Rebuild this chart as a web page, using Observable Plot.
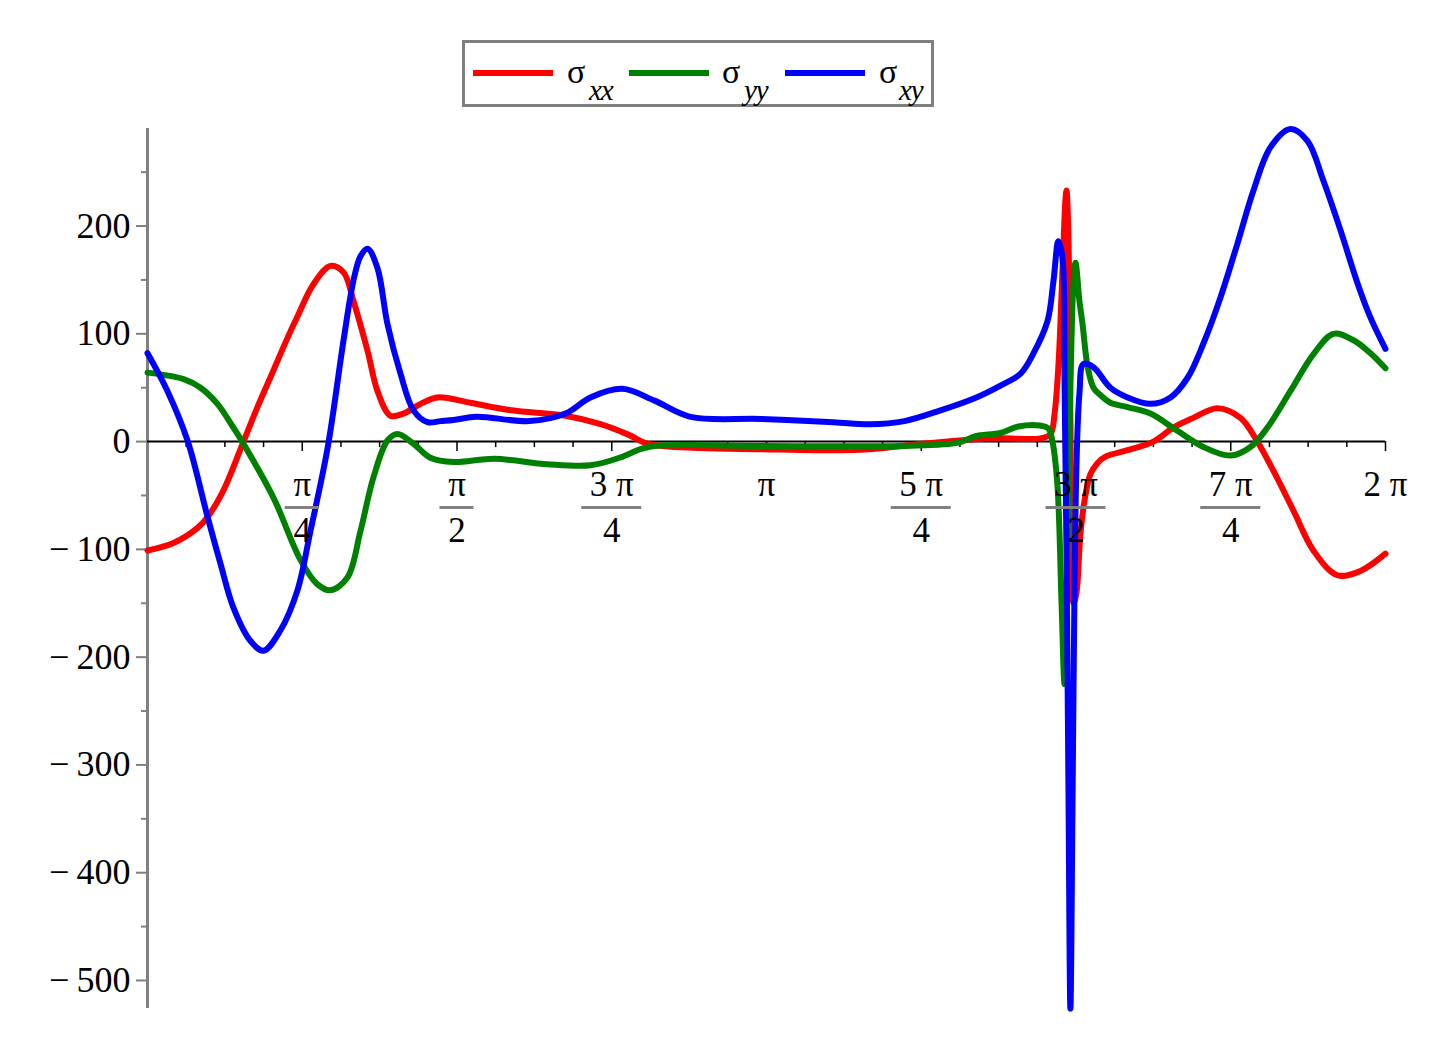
<!DOCTYPE html>
<html><head><meta charset="utf-8">
<script src="https://cdn.jsdelivr.net/npm/d3@7"></script>
<script src="https://cdn.jsdelivr.net/npm/@observablehq/plot@0.6"></script>
<style>
body{margin:0;background:#fff;font-family:"Liberation Serif",serif;color:#000;}
#legend{position:relative;width:1449px;height:120px;}
#box{position:absolute;left:462px;top:40px;width:466px;height:61px;border:3px solid #7f7f7f;background:#fff;}
.sw{position:absolute;top:27px;height:6px;width:80px;}
.sig{position:absolute;top:12px;font-size:34px;line-height:34px;}
.sub{position:absolute;top:33px;font-size:29px;line-height:29px;font-style:italic;letter-spacing:-1px;}
</style></head>
<body>
<div id="legend"><div id="box"></div></div>
<div id="chart"></div>
<script>
// theta in radians, stress values
const redTheta = [0,0.132,0.254,0.305,0.386,0.487,0.558,0.639,0.710,0.761,0.842,0.929,0.995,1.046,1.117,1.167,1.233,1.299,1.386,1.472,1.639,1.847,2.121,2.304,2.446,2.538,2.806,3.116,3.390,3.664,3.933,4.299,4.532,4.583,4.603,4.623,4.644,4.659,4.664,4.674,4.684,4.700,4.715,4.735,4.760,4.786,4.821,4.862,4.974,5.105,5.207,5.308,5.430,5.547,5.633,5.714,5.816,5.917,6.039,6.156,6.283];
const redValue = [-101,-94,-80,-70,-45,0,32,66,96,116,146,163,157,130,84,47,24,26,35,41,36,29,24,16,6,-2,-6,-7,-8,-7,-2,3,3,7,25,70,160,225,233,190,20,-150,-140,-85,-50,-30,-20,-14,-8,0,13,22,31,22,0,-27,-64,-101,-124,-120,-104];

const greenTheta = [0,0.183,0.269,0.355,0.436,0.487,0.639,0.777,0.860,0.929,1.015,1.081,1.147,1.218,1.269,1.350,1.436,1.553,1.761,2.030,2.248,2.395,2.502,2.573,3.111,3.842,4.116,4.202,4.329,4.420,4.527,4.573,4.593,4.618,4.639,4.654,4.669,4.684,4.700,4.710,4.730,4.745,4.771,4.801,4.837,4.887,4.974,5.090,5.227,5.359,5.496,5.598,5.684,5.801,5.917,6.019,6.121,6.207,6.283];
const greenValue = [64,58,50,35,13,-2,-52,-110,-132,-138,-126,-83,-33,1,7,-2,-15,-19,-16,-21,-22,-15,-7,-4,-4,-4,-1,5,8,14,15,12,0,-40,-150,-225,-100,50,150,166,130,110,70,50,43,36,32,26,10,-5,-13,-5,13,47,81,100,94,82,68];

const blueTheta = [0,0.101,0.203,0.305,0.370,0.436,0.523,0.589,0.675,0.761,0.827,0.914,0.995,1.046,1.081,1.117,1.167,1.218,1.284,1.350,1.421,1.487,1.553,1.670,1.939,2.121,2.248,2.411,2.573,2.756,3.116,3.482,3.664,3.842,4.025,4.207,4.329,4.431,4.497,4.568,4.598,4.623,4.644,4.654,4.664,4.674,4.684,4.695,4.705,4.715,4.730,4.750,4.801,4.887,4.974,5.090,5.192,5.278,5.359,5.446,5.532,5.613,5.699,5.801,5.887,5.968,6.055,6.141,6.207,6.283];
const blueValue = [82,47,1,-70,-113,-154,-185,-194,-175,-138,-83,-6,94,150,172,179,161,109,63,29,18,19,20,23,19,26,41,49,38,23,21,18,16,19,29,41,52,63,82,112,149,186,170,60,-100,-320,-526,-330,-130,-20,45,72,69,50,41,35,41,59,91,134,184,233,273,290,279,242,196,147,115,86];

const seriesNames = ["σ", "σ", "σ"];
const seriesSubs = ["xx", "yy", "xy"];
const seriesColors = ["#ff0000", "#008000", "#0000ff"];

const yMajorTicks = [-500,-400,-300,-200,-100,0,100,200];
const yMinorTicks = [-450,-350,-250,-150,-50,50,150,250];
const xTickQuarters = [1,2,3,4,5,6,7,8];            // multiples of π/4
const xTickNumerators = ["π","π","3 π","π","5 π","3 π","7 π","2 π"];
const xTickDenominators = ["4","2","4","","4","2","4",""];

// legend
const box = document.getElementById("box");
const swLeft = [8,164,320], sigLeft = [102,257,414], subLeft = [124,279,434];
seriesNames.forEach((n,i)=>{
  const s = document.createElement("div"); s.className="sw"; s.style.left=swLeft[i]+"px"; s.style.background=seriesColors[i]; box.appendChild(s);
  const g = document.createElement("div"); g.className="sig"; g.style.left=sigLeft[i]+"px"; g.textContent=n; box.appendChild(g);
  const b = document.createElement("div"); b.className="sub"; b.style.left=subLeft[i]+"px"; b.textContent=seriesSubs[i]; box.appendChild(b);
});

const mk = (t,v) => t.map((x,i)=>({x, y:v[i]}));
const red = mk(redTheta, redValue), green = mk(greenTheta, greenValue), blue = mk(blueTheta, blueValue);

const PI = Math.PI;
const minorX = d3.range(1,33).map(k=>k*PI/16).filter((d,i)=>(i+1)%4!==0);
const majorX = xTickQuarters.map(k=>k*PI/4);
const labels = xTickQuarters.map((k,i)=>({x:k*PI/4, num:xTickNumerators[i], den:xTickDenominators[i]}));
const fracNarrow = labels.filter(d=>d.den && d.num.length===1);
const fracWide = labels.filter(d=>d.den && d.num.length>1);

const font = "Liberation Serif, Times New Roman, serif";
const chart = Plot.plot({
  width: 1449, height: 941,
  marginLeft: 147, marginRight: 64, marginTop: 8, marginBottom: 53,
  x: {domain:[0, 2*PI], axis:null},
  y: {domain:[-526, 290.5], axis:null},
  style: {fontFamily: font, background:"#fff"},
  marks: [
    Plot.ruleX([0], {stroke:"#808080", strokeWidth:3}),
    Plot.axisY(yMajorTicks, {tickSize:11, stroke:"#808080", strokeWidth:2, fill:"#000", tickPadding:6, fontSize:36, fontFamily:font,
      tickFormat: d => d < 0 ? "\u2212\u2009" + (-d) : String(d), label:null}),
    Plot.axisY(yMinorTicks, {tickSize:6, stroke:"#808080", strokeWidth:2, tickFormat: () => "", label:null}),
    Plot.ruleY([0], {stroke:"#000", strokeWidth:2}),
    Plot.ruleX(minorX, {x:d=>d, y1:()=>0, y2:()=>0, insetBottom:-6, stroke:"#000", strokeWidth:1.5}),
    Plot.ruleX(majorX, {x:d=>d, y1:()=>0, y2:()=>0, insetBottom:-10, stroke:"#000", strokeWidth:1.5}),
    Plot.line(red, {x:"x", y:"y", stroke:seriesColors[0], strokeWidth:6, curve:"catmull-rom"}),
    Plot.line(green, {x:"x", y:"y", stroke:seriesColors[1], strokeWidth:6, curve:"catmull-rom"}),
    Plot.line(blue, {x:"x", y:"y", stroke:seriesColors[2], strokeWidth:6, curve:"catmull-rom"}),
    Plot.text(labels, {x:"x", y:()=>0, text:"num", dy:43, fontSize:35, fontFamily:font, fill:"#000"}),
    Plot.text(labels.filter(d=>d.den), {x:"x", y:()=>0, text:"den", dy:89, fontSize:35, fontFamily:font, fill:"#000"}),
    Plot.ruleY(fracNarrow, {x1:"x", x2:"x", y:()=>0, dy:66, insetLeft:-17, insetRight:-17, stroke:"#808080", strokeWidth:3}),
    Plot.ruleY(fracWide, {x1:"x", x2:"x", y:()=>0, dy:66, insetLeft:-30, insetRight:-30, stroke:"#808080", strokeWidth:3})
  ]
});
document.getElementById("chart").appendChild(chart);
</script>
</body></html>
